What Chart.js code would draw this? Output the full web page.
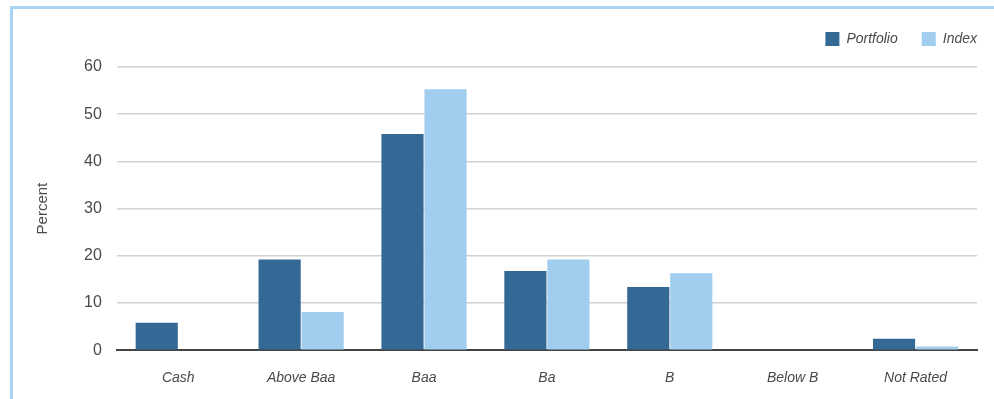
<!DOCTYPE html>
<html>
<head>
<meta charset="utf-8">
<script src="https://cdn.jsdelivr.net/npm/chart.js@4/dist/chart.umd.min.js"></script>
<style>
  html, body { margin: 0; padding: 0; background: #fff; }
  #wrap { position: relative; width: 994px; height: 399px; overflow: hidden; }
  #frame {
    position: absolute; left: 10px; top: 6px; width: 1000px; height: 420px;
    border-left: 3px solid #a9d3f3; border-top: 3px solid #a9d3f3;
  }
  #chart { position: absolute; left: 0; top: 0; }
</style>
</head>
<body>
<div id="wrap">
  <div id="frame"></div>
  <canvas id="chart" width="994" height="399"></canvas>
</div>
<script>
  const categories = ['Cash', 'Above Baa', 'Baa', 'Ba', 'B', 'Below B', 'Not Rated'];
  const portfolio = [5.8, 19.2, 45.8, 16.8, 13.4, 0, 2.4];
  const index = [0, 8.1, 55.3, 19.2, 16.3, 0, 0.8];
  const yTicks = [0, 10, 20, 30, 40, 50, 60];

  const FONT = '"Liberation Sans", Arial, sans-serif';
  const TEXT = '#4a4a4a';

  // extra room under the legend, and push it flush with the plot's right edge
  const legendTweak = {
    id: 'legendTweak',
    beforeInit(chart) {
      const fit = chart.legend.fit;
      chart.legend.fit = function () {
        fit.bind(chart.legend)();
        this.height += 11;
      };
    },
    afterLayout(chart) {
      chart.legend.left += 24;
      chart.legend.right += 24;
    }
  };

  const ctx = document.getElementById('chart').getContext('2d');
  new Chart(ctx, {
    type: 'bar',
    data: {
      labels: categories,
      datasets: [
        { label: 'Portfolio', data: portfolio, backgroundColor: '#346995', borderWidth: 0 },
        { label: 'Index', data: index, backgroundColor: '#a1cdef', borderWidth: 0 }
      ]
    },
    plugins: [legendTweak],
    options: {
      responsive: false,
      animation: false,
      layout: { padding: { left: 34, right: 17, top: 8, bottom: 0 } },
      categoryPercentage: 0.7,
      barPercentage: 0.98,
      plugins: {
        legend: {
          position: 'top',
          align: 'end',
          labels: {
            boxWidth: 14, boxHeight: 14, padding: 24, color: TEXT,
            font: { family: FONT, size: 14, style: 'italic' }
          }
        },
        tooltip: { enabled: false }
      },
      scales: {
        x: {
          grid: { display: false },
          border: { color: '#444', width: 2 },
          ticks: { color: TEXT, padding: 12, font: { family: FONT, size: 14, style: 'italic' } }
        },
        y: {
          min: yTicks[0],
          max: yTicks[yTicks.length - 1],
          afterBuildTicks: (axis) => { axis.ticks = yTicks.map(v => ({ value: v })); },
          grid: { color: '#d2d2d2', lineWidth: 1.5, drawTicks: false },
          border: { display: false },
          ticks: { color: TEXT, padding: 15, font: { family: FONT, size: 16 } },
          title: { display: true, text: 'Percent', color: TEXT, padding: { top: 0, bottom: 17 }, font: { family: FONT, size: 15 } }
        }
      }
    }
  });
</script>
</body>
</html>
